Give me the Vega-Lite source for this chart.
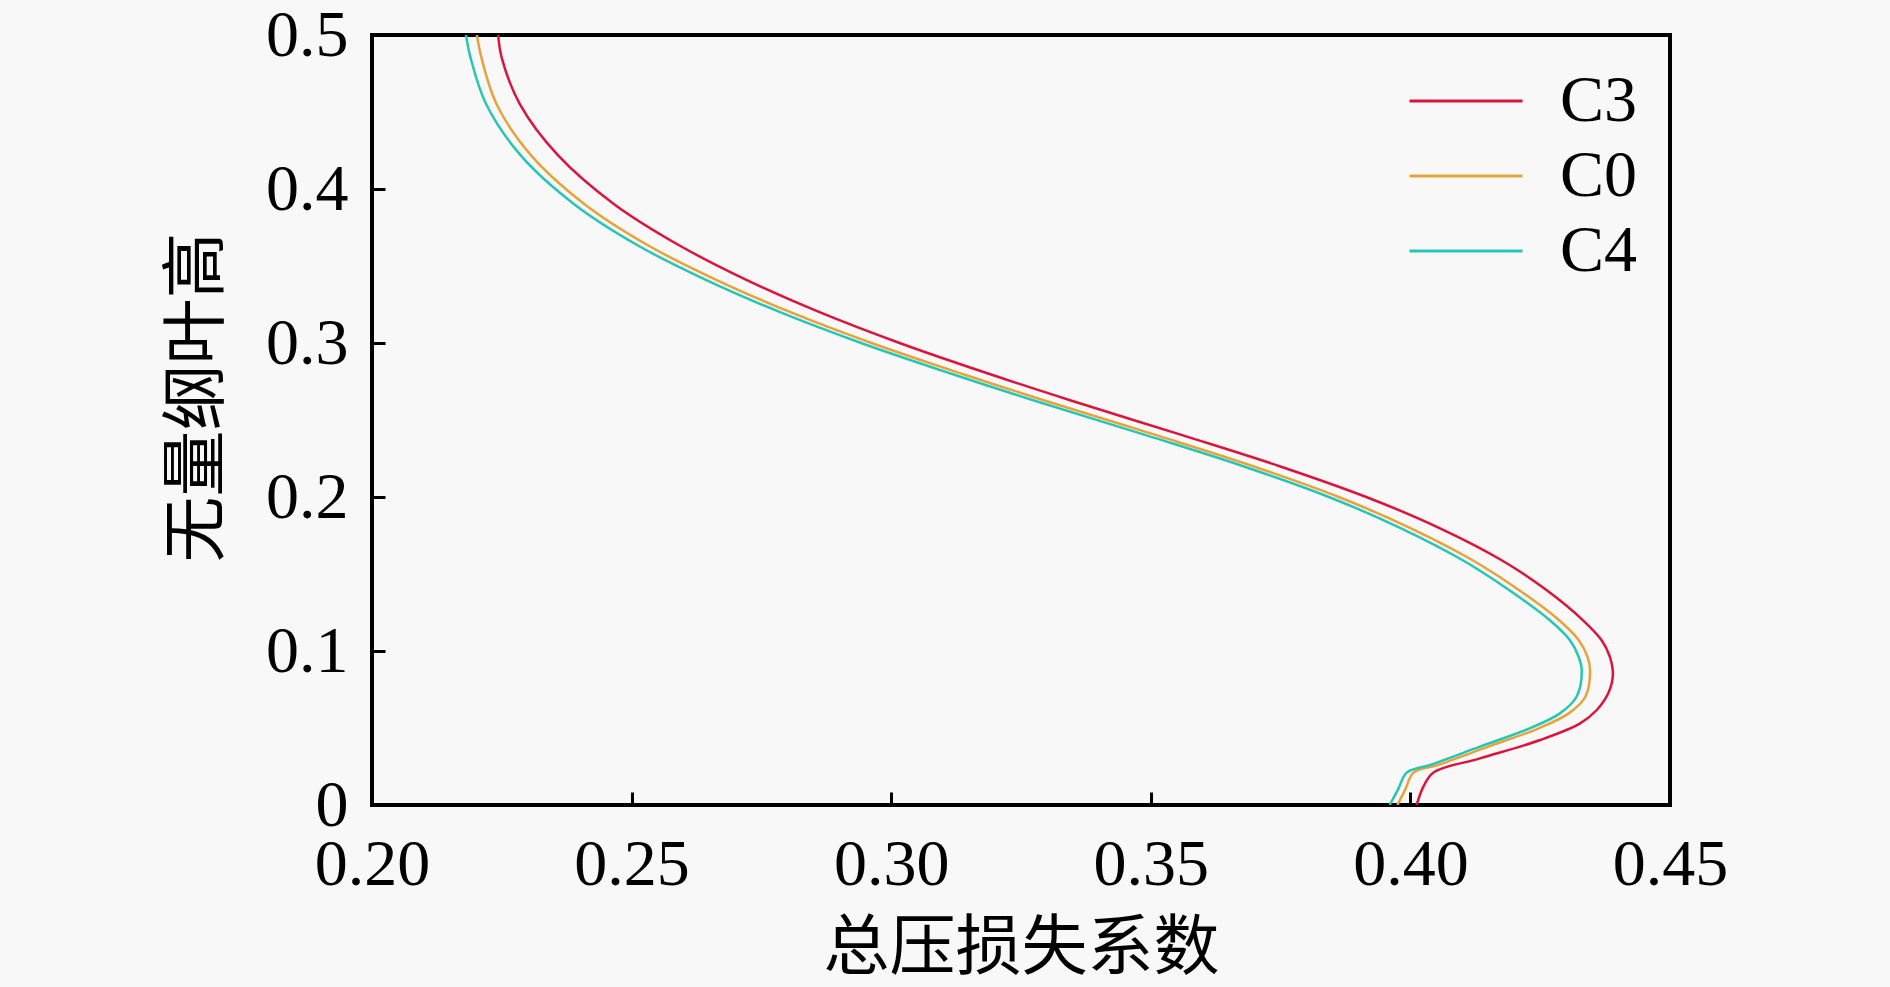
{
  "$schema": "https://vega.github.io/schema/vega-lite/v6.json",
  "width": 1298,
  "height": 770,
  "autosize": {"type": "none"},
  "padding": {"left": 372, "top": 35, "right": 220, "bottom": 182},
  "background": "#f8f8f8",
  "datasets": {
    "profiles": [
      {"case": "C3", "loss": 0.4012, "span": 0.0},
      {"case": "C3", "loss": 0.4025, "span": 0.0119},
      {"case": "C3", "loss": 0.4044, "span": 0.021},
      {"case": "C3", "loss": 0.4134, "span": 0.0303},
      {"case": "C3", "loss": 0.425, "span": 0.0422},
      {"case": "C3", "loss": 0.4327, "span": 0.053},
      {"case": "C3", "loss": 0.4359, "span": 0.0617},
      {"case": "C3", "loss": 0.4381, "span": 0.0725},
      {"case": "C3", "loss": 0.439, "span": 0.0844},
      {"case": "C3", "loss": 0.4384, "span": 0.0963},
      {"case": "C3", "loss": 0.4368, "span": 0.1071},
      {"case": "C3", "loss": 0.4332, "span": 0.1201},
      {"case": "C3", "loss": 0.4262, "span": 0.1396},
      {"case": "C3", "loss": 0.4175, "span": 0.1591},
      {"case": "C3", "loss": 0.4055, "span": 0.18},
      {"case": "C3", "loss": 0.3915, "span": 0.2},
      {"case": "C3", "loss": 0.3748, "span": 0.22},
      {"case": "C3", "loss": 0.3562, "span": 0.24},
      {"case": "C3", "loss": 0.3343, "span": 0.263},
      {"case": "C3", "loss": 0.3188, "span": 0.28},
      {"case": "C3", "loss": 0.3016, "span": 0.3},
      {"case": "C3", "loss": 0.2862, "span": 0.32},
      {"case": "C3", "loss": 0.2721, "span": 0.341},
      {"case": "C3", "loss": 0.2594, "span": 0.363},
      {"case": "C3", "loss": 0.2467, "span": 0.39},
      {"case": "C3", "loss": 0.2358, "span": 0.422},
      {"case": "C3", "loss": 0.2285, "span": 0.455},
      {"case": "C3", "loss": 0.225, "span": 0.485},
      {"case": "C3", "loss": 0.2243, "span": 0.5},

      {"case": "C0", "loss": 0.3975, "span": 0.0},
      {"case": "C0", "loss": 0.399, "span": 0.01},
      {"case": "C0", "loss": 0.4006, "span": 0.021},
      {"case": "C0", "loss": 0.4053, "span": 0.026},
      {"case": "C0", "loss": 0.415, "span": 0.0379},
      {"case": "C0", "loss": 0.4247, "span": 0.0498},
      {"case": "C0", "loss": 0.4305, "span": 0.0595},
      {"case": "C0", "loss": 0.4337, "span": 0.0703},
      {"case": "C0", "loss": 0.4346, "span": 0.0877},
      {"case": "C0", "loss": 0.4341, "span": 0.0963},
      {"case": "C0", "loss": 0.4324, "span": 0.1071},
      {"case": "C0", "loss": 0.4286, "span": 0.1201},
      {"case": "C0", "loss": 0.4209, "span": 0.1396},
      {"case": "C0", "loss": 0.4119, "span": 0.1591},
      {"case": "C0", "loss": 0.3999, "span": 0.18},
      {"case": "C0", "loss": 0.3862, "span": 0.2},
      {"case": "C0", "loss": 0.3697, "span": 0.22},
      {"case": "C0", "loss": 0.3512, "span": 0.24},
      {"case": "C0", "loss": 0.3292, "span": 0.263},
      {"case": "C0", "loss": 0.3136, "span": 0.28},
      {"case": "C0", "loss": 0.2962, "span": 0.3},
      {"case": "C0", "loss": 0.2806, "span": 0.32},
      {"case": "C0", "loss": 0.2663, "span": 0.341},
      {"case": "C0", "loss": 0.2534, "span": 0.363},
      {"case": "C0", "loss": 0.241, "span": 0.39},
      {"case": "C0", "loss": 0.2306, "span": 0.422},
      {"case": "C0", "loss": 0.224, "span": 0.455},
      {"case": "C0", "loss": 0.2211, "span": 0.485},
      {"case": "C0", "loss": 0.2202, "span": 0.5},

      {"case": "C4", "loss": 0.396, "span": 0.0},
      {"case": "C4", "loss": 0.3976, "span": 0.01},
      {"case": "C4", "loss": 0.3993, "span": 0.021},
      {"case": "C4", "loss": 0.4038, "span": 0.026},
      {"case": "C4", "loss": 0.4134, "span": 0.0379},
      {"case": "C4", "loss": 0.423, "span": 0.0498},
      {"case": "C4", "loss": 0.4288, "span": 0.0595},
      {"case": "C4", "loss": 0.432, "span": 0.0703},
      {"case": "C4", "loss": 0.433, "span": 0.0877},
      {"case": "C4", "loss": 0.4324, "span": 0.0963},
      {"case": "C4", "loss": 0.4307, "span": 0.1071},
      {"case": "C4", "loss": 0.4268, "span": 0.1201},
      {"case": "C4", "loss": 0.419, "span": 0.1396},
      {"case": "C4", "loss": 0.41, "span": 0.1591},
      {"case": "C4", "loss": 0.398, "span": 0.18},
      {"case": "C4", "loss": 0.3843, "span": 0.2},
      {"case": "C4", "loss": 0.3678, "span": 0.22},
      {"case": "C4", "loss": 0.3492, "span": 0.24},
      {"case": "C4", "loss": 0.3272, "span": 0.263},
      {"case": "C4", "loss": 0.3116, "span": 0.28},
      {"case": "C4", "loss": 0.2942, "span": 0.3},
      {"case": "C4", "loss": 0.2786, "span": 0.32},
      {"case": "C4", "loss": 0.2643, "span": 0.341},
      {"case": "C4", "loss": 0.2514, "span": 0.363},
      {"case": "C4", "loss": 0.239, "span": 0.39},
      {"case": "C4", "loss": 0.2286, "span": 0.422},
      {"case": "C4", "loss": 0.222, "span": 0.455},
      {"case": "C4", "loss": 0.219, "span": 0.485},
      {"case": "C4", "loss": 0.2181, "span": 0.5}
    ]
  },
  "data": {"name": "profiles"},
  "mark": {"type": "line", "strokeWidth": 2.5, "interpolate": "catmull-rom", "clip": true},
  "encoding": {
    "x": {
      "field": "loss",
      "type": "quantitative",
      "scale": {"domain": [0.2, 0.45], "nice": false, "zero": false},
      "axis": {
        "values": [0.2, 0.25, 0.3, 0.35, 0.4, 0.45],
        "format": ".2f",
        "labelPadding": 40,
        "title": "总压损失系数",
        "titleY": 143,
        "titleBaseline": "middle"
      }
    },
    "y": {
      "field": "span",
      "type": "quantitative",
      "scale": {"domain": [0, 0.5], "nice": false},
      "axis": {
        "values": [0, 0.1, 0.2, 0.3, 0.4, 0.5],
        "labelExpr": "datum.value == 0 ? '0' : format(datum.value, '.1f')",
        "labelPadding": 37,
        "title": "无量纲叶高",
        "titleX": -175,
        "titleY": 362,
        "titleBaseline": "middle",
        "titleAngle": 270
      }
    },
    "order": {"field": "span", "type": "quantitative"},
    "color": {
      "field": "case",
      "type": "nominal",
      "scale": {
        "domain": ["C3", "C0", "C4"],
        "range": ["#dc143c", "#e8a23a", "#26c6b5"]
      },
      "legend": {
        "title": null,
        "orient": "none",
        "legendX": 1061,
        "legendY": 33,
        "padding": 0,
        "symbolType": "M -2 0 L 2 0",
        "symbolSize": 3192,
        "symbolStrokeWidth": 3,
        "labelOffset": 61,
        "rowPadding": 9,
        "labelFont": "Liberation Serif",
        "labelFontSize": 66,
        "labelColor": "black"
      }
    }
  },
  "config": {
    "view": {"stroke": "black", "strokeWidth": 4},
    "axis": {
      "domain": false,
      "grid": false,
      "ticks": true,
      "tickSize": -13,
      "tickWidth": 3,
      "tickColor": "black",
      "labelFont": "Liberation Serif",
      "labelFontSize": 66,
      "labelColor": "black",
      "labelFlush": false,
      "labelOverlap": false,
      "titleFont": "Noto Sans CJK SC",
      "titleFontSize": 66,
      "titleFontWeight": "normal",
      "titleColor": "black"
    }
  }
}
